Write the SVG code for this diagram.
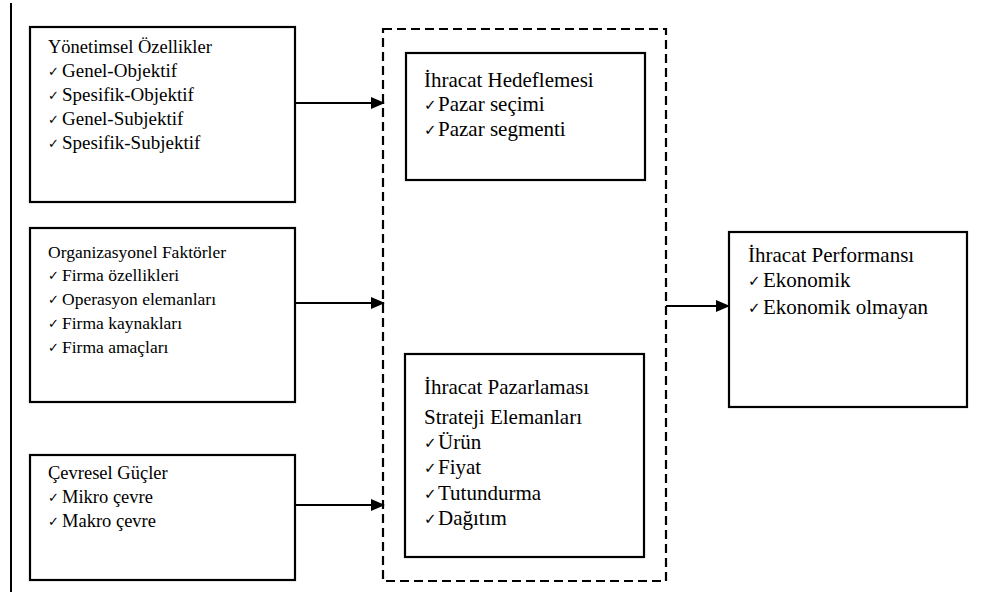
<svg xmlns="http://www.w3.org/2000/svg" width="981" height="601" viewBox="0 0 981 601">
<defs>
<marker id="ah" markerWidth="14" markerHeight="12" refX="13" refY="6" orient="auto" markerUnits="userSpaceOnUse">
<path d="M0,0 L14,6 L0,12 Z" fill="#000"/>
</marker>
<style>
.box{fill:#fff;stroke:#000;stroke-width:2.2}
.dash{fill:none;stroke:#000;stroke-width:2.2;stroke-dasharray:9,5}
.con{stroke:#000;stroke-width:2.2;fill:none}
text{font-family:"Liberation Serif","Times New Roman",serif;font-size:17.5px;fill:#000}
.m{font-size:18.5px}
.l{font-size:19px}
.big{font-size:21px}
.ck{font-family:"DejaVu Sans",sans-serif;font-size:13px}
.ckb{font-family:"DejaVu Sans",sans-serif;font-size:15px}
</style>
</defs>
<rect width="981" height="601" fill="#fff"/>
<line x1="11" y1="3" x2="11" y2="592" stroke="#000" stroke-width="2"/>
<g id="frame">
<rect class="dash" x="383" y="29" width="283" height="552"/>
</g>
<g id="connectors">
<line class="con" x1="295" y1="103" x2="384" y2="103" marker-end="url(#ah)"/>
<line class="con" x1="295" y1="303" x2="384" y2="303" marker-end="url(#ah)"/>
<line class="con" x1="295" y1="505" x2="384" y2="505" marker-end="url(#ah)"/>
<line class="con" x1="666" y1="306" x2="729" y2="306" marker-end="url(#ah)"/>
</g>
<g id="yonetimsel">
<rect class="box" x="30" y="27" width="265" height="175"/>
<text class="m" x="48" y="53">Yönetimsel Özellikler</text>
<text class="ck" x="48" y="76">✓</text><text class="l" x="62" y="77">Genel-Objektif</text>
<text class="ck" x="48" y="100">✓</text><text class="l" x="62" y="101">Spesifik-Objektif</text>
<text class="ck" x="48" y="124">✓</text><text class="l" x="62" y="125">Genel-Subjektif</text>
<text class="ck" x="48" y="148">✓</text><text class="l" x="62" y="149">Spesifik-Subjektif</text>
</g>
<g id="organizasyonel">
<rect class="box" x="30" y="228" width="265" height="174"/>
<text x="48" y="258">Organizasyonel Faktörler</text>
<text class="ck" x="48" y="280">✓</text><text x="62" y="281">Firma özellikleri</text>
<text class="ck" x="48" y="304">✓</text><text x="62" y="305">Operasyon elemanları</text>
<text class="ck" x="48" y="328">✓</text><text x="62" y="329">Firma kaynakları</text>
<text class="ck" x="48" y="352">✓</text><text x="62" y="353">Firma amaçları</text>
</g>
<g id="cevresel">
<rect class="box" x="30" y="455" width="265" height="125"/>
<text class="m" x="48" y="479">Çevresel Güçler</text>
<text class="ck" x="48" y="502">✓</text><text class="m" x="62" y="503">Mikro çevre</text>
<text class="ck" x="48" y="526">✓</text><text class="m" x="62" y="527">Makro çevre</text>
</g>
<g id="hedefleme">
<rect class="box" x="406" y="53" width="239" height="127"/>
<text class="big" x="424" y="87">İhracat Hedeflemesi</text>
<text class="ckb" x="424" y="110">✓</text><text class="big" x="438" y="111">Pazar seçimi</text>
<text class="ckb" x="424" y="135">✓</text><text class="big" x="438" y="136">Pazar segmenti</text>
</g>
<g id="pazarlama">
<rect class="box" x="405" y="354" width="239" height="203"/>
<text class="big" x="424" y="394">İhracat Pazarlaması</text>
<text class="big" x="424" y="424">Strateji Elemanları</text>
<text class="ckb" x="424" y="448">✓</text><text class="big" x="438" y="449">Ürün</text>
<text class="ckb" x="424" y="473">✓</text><text class="big" x="438" y="474">Fiyat</text>
<text class="ckb" x="424" y="499">✓</text><text class="big" x="438" y="500">Tutundurma</text>
<text class="ckb" x="424" y="524">✓</text><text class="big" x="438" y="525">Dağıtım</text>
</g>
<g id="performans">
<rect class="box" x="729" y="232" width="238" height="175"/>
<text class="big" x="748" y="262">İhracat Performansı</text>
<text class="ckb" x="748" y="286">✓</text><text class="big" x="763" y="287">Ekonomik</text>
<text class="ckb" x="748" y="313">✓</text><text class="big" x="763" y="314">Ekonomik olmayan</text>
</g>
</svg>
